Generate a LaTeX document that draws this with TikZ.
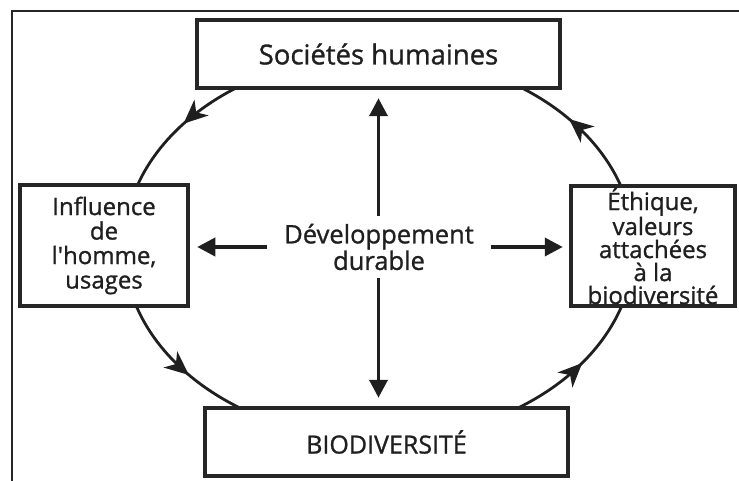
\documentclass[tikz,border=0pt]{standalone}
\usepackage{fontspec}
\newfontfamily\osans{Open Sans}[FakeBold=1]
\usetikzlibrary{arrows.meta,decorations.markings}
\begin{document}
\begin{tikzpicture}[x=1pt,y=-1pt,
  box/.style={draw=black!85, line width=4.5pt, fill=white, align=center, inner sep=0pt,
    font=\osans\fontsize{24}{24.5}\selectfont, text=black!88},
  cyc/.style={line width=2.8pt, draw=black!88},
  ax/.style={line width=3.8pt, draw=black!88, -{Triangle[length=18pt,width=18pt]}},
  cmark/.style={postaction={decorate}, decoration={markings,
    mark=at position #1 with {\arrow[black!88]{Stealth[length=24pt,width=21pt,inset=7pt]}}}}
]
\useasboundingbox (0,0) rectangle (739,481);
\fill[white] (0,0) rectangle (739,481);
\draw[line width=2.2pt, black!85] (739,11) -- (12,11) -- (12,481);
\coordinate (C) at (379,247);
% cycle arcs
\draw[cyc, cmark=0.60] ([shift={(270:255 and 192)}]C) arc[start angle=270,end angle=180,x radius=255,y radius=192];
\draw[cyc, cmark=0.42] ([shift={(180:255 and 192)}]C) arc[start angle=180,end angle=90,x radius=255,y radius=192];
\draw[cyc, cmark=0.63] ([shift={(90:255 and 192)}]C) arc[start angle=90,end angle=0,x radius=255,y radius=192];
\draw[cyc, cmark=0.42] ([shift={(0:255 and 192)}]C) arc[start angle=0,end angle=-90,x radius=255,y radius=192];
% boxes
\node[box, minimum width=363pt, minimum height=68pt, font=\osans\fontsize{27.5}{28}\selectfont] (soc) at (378.5,54) {Sociétés humaines};
\node[box, minimum width=363pt, minimum height=68pt, font=\osans\fontsize{25}{25}\selectfont] (bio) at (386.5,442) {BIODIVERSITÉ};
\node[box, minimum width=168pt, minimum height=121pt] (inf) at (104,245.5) {Influence\\de\\l'homme,\\usages};
\node[box, minimum width=164pt, minimum height=120pt, font=\osans\fontsize{24}{23}\selectfont] (eth) at (653,246) {Éthique,\\valeurs\\attachées\\à la\\biodiversité};
% centre
\node[align=center, inner xsep=17pt, inner ysep=8pt, font=\osans\fontsize{25.5}{22}\selectfont, text=black!88] (dev) at (379,247) {Développement\\durable};
\draw[ax, shorten >=8pt] (dev.north -| soc.south) -- (soc.south);
\draw[ax, shorten >=8pt] (dev.south -| soc.south) -- (soc.south |- bio.north);
\draw[ax, shorten >=7pt] (dev.west) -- (dev.west -| inf.east);
\draw[ax, shorten >=6pt] (dev.east) -- (dev.east -| eth.west);
\end{tikzpicture}
\end{document}
